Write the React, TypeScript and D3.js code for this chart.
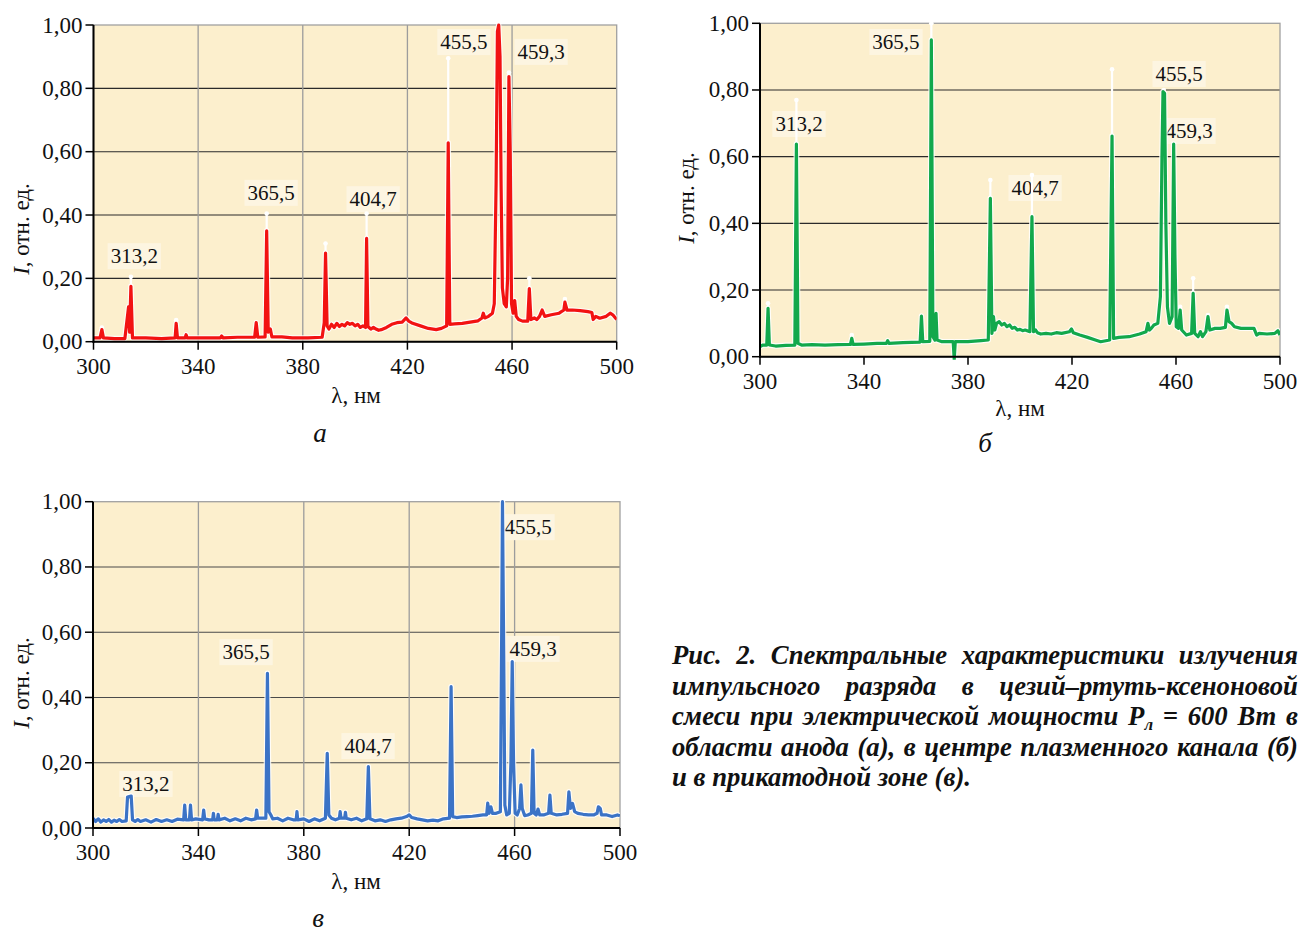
import React from "react";
import * as d3 from "d3";

type P = [number, number];
type H = [number, number, number];
type L = { text: string; x: number; y: number };

const xTicks = [300, 340, 380, 420, 460, 500];
const yTicks = [0, 0.2, 0.4, 0.6, 0.8, 1.0];

// ---------- Panel (а): anode region ----------
const spectrumA: P[] = [
  [300, 0.012], [302.5, 0.012], [303.2, 0.038], [303.8, 0.012], [308, 0.01], [312, 0.01], [313.4, 0.11], [313.8, 0.03],
  [314.3, 0.175], [314.9, 0.012], [320, 0.012], [326, 0.01], [331.2, 0.012], [331.6, 0.058], [332.1, 0.012], [335, 0.012],
  [335.4, 0.022], [335.8, 0.012], [342, 0.012], [348.5, 0.012], [349, 0.018], [349.5, 0.012], [355, 0.014], [361.6, 0.014],
  [362.2, 0.06], [362.8, 0.014], [365.6, 0.015], [366.2, 0.35], [366.8, 0.03], [367.6, 0.04], [368.2, 0.015], [372, 0.015],
  [376, 0.012], [382, 0.012], [387.4, 0.014], [388.2, 0.06], [388.7, 0.28], [389.3, 0.05], [390, 0.04], [391, 0.055],
  [392, 0.045], [393, 0.058], [394, 0.048], [395, 0.055], [396, 0.05], [397, 0.06], [398, 0.055], [399, 0.058], [400, 0.05],
  [401, 0.055], [402, 0.045], [403, 0.05], [404, 0.045], [404.4, 0.326], [404.9, 0.048], [406, 0.04], [407, 0.045],
  [408, 0.04], [409, 0.036], [410, 0.038], [412, 0.045], [414, 0.055], [416, 0.06], [418, 0.062], [419.5, 0.075],
  [420.5, 0.065], [422, 0.058], [425, 0.05], [428, 0.042], [431, 0.038], [433, 0.042], [435, 0.05], [435.6, 0.628],
  [436.2, 0.055], [438, 0.056], [441, 0.058], [444, 0.062], [447, 0.066], [448.5, 0.075], [449, 0.09], [449.6, 0.075],
  [451, 0.08], [452.5, 0.09], [453.2, 0.12], [453.9, 0.5], [454.4, 0.98], [454.9, 1.0], [455.4, 0.9], [455.8, 0.5],
  [456.3, 0.17], [457, 0.12], [457.8, 0.11], [458.3, 0.2], [458.8, 0.837], [459.3, 0.6], [459.8, 0.12], [460.4, 0.09],
  [461, 0.13], [461.6, 0.08], [462.5, 0.07], [464, 0.065], [466, 0.065], [466.6, 0.168], [467.2, 0.07], [468.5, 0.075],
  [469.5, 0.07], [470.5, 0.08], [471.5, 0.1], [472.5, 0.08], [475, 0.085], [478, 0.09], [479.8, 0.1], [480.2, 0.125],
  [481, 0.1], [483, 0.1], [486, 0.098], [489, 0.095], [490.5, 0.092], [491, 0.07], [492, 0.08], [493.5, 0.074], [496, 0.08],
  [497.5, 0.09], [498.5, 0.085], [500, 0.07],
];
const haloA: H[] = [
  [303.2, 0.038, 0.045], [314.3, 0.175, 0.205], [331.6, 0.058, 0.068], [366.2, 0.35, 0.405], [388.7, 0.28, 0.31],
  [404.4, 0.326, 0.405], [435.6, 0.628, 0.895], [458.8, 0.837, 0.85], [466.6, 0.168, 0.2], [480.2, 0.125, 0.135],
];
const labelsA: L[] = [
  { text: "313,2", x: 315.6, y: 0.27 },
  { text: "365,5", x: 367.9, y: 0.47 },
  { text: "404,7", x: 406.9, y: 0.45 },
  { text: "455,5", x: 441.6, y: 0.946 },
  { text: "459,3", x: 471.1, y: 0.915 },
];

// ---------- Panel (б): plasma channel centre ----------
const spectrumB: P[] = [
  [300, 0.03], [301, 0.035], [302.6, 0.035], [303.1, 0.145], [303.6, 0.035], [306, 0.032], [310, 0.034], [313.4, 0.035],
  [314, 0.638], [314.6, 0.04], [316, 0.035], [320, 0.036], [325, 0.035], [330, 0.036], [334.8, 0.037], [335.3, 0.055],
  [335.8, 0.037], [340, 0.038], [345, 0.04], [348.6, 0.04], [349.1, 0.048], [349.6, 0.04], [355, 0.042], [361.6, 0.044],
  [362.1, 0.122], [362.6, 0.045], [365.3, 0.046], [365.9, 0.95], [366.5, 0.06], [367.3, 0.05], [367.7, 0.13], [368.1, 0.05],
  [370, 0.045], [374.3, 0.045], [374.7, -0.008], [375.1, 0.045], [380, 0.045], [385, 0.048], [387.8, 0.05], [388.6, 0.475],
  [389.2, 0.07], [389.8, 0.12], [390.3, 0.08], [391, 0.1], [392, 0.105], [393, 0.095], [394, 0.1], [395, 0.09], [396, 0.095],
  [397, 0.085], [398, 0.088], [399, 0.08], [400, 0.082], [401, 0.078], [402, 0.08], [403.8, 0.075], [404.6, 0.42],
  [405.2, 0.075], [406, 0.08], [406.7, 0.072], [408, 0.068], [410, 0.07], [412, 0.068], [414, 0.072], [416, 0.07],
  [419, 0.075], [419.8, 0.083], [420.5, 0.072], [423, 0.065], [426, 0.058], [429, 0.05], [431, 0.045], [433, 0.048],
  [434.5, 0.05], [435.4, 0.662], [436, 0.055], [438, 0.058], [442, 0.06], [446, 0.068], [448.5, 0.075], [449.2, 0.1],
  [449.8, 0.08], [450.5, 0.085], [451.5, 0.095], [453, 0.1], [454, 0.18], [454.6, 0.6], [455, 0.795], [455.6, 0.79],
  [456.1, 0.4], [456.7, 0.15], [457.5, 0.1], [458.5, 0.12], [459.1, 0.638], [459.6, 0.3], [460.1, 0.09], [461, 0.085],
  [461.6, 0.14], [462.2, 0.08], [464, 0.065], [466, 0.07], [466.6, 0.19], [467.2, 0.07], [468.5, 0.06], [469.4, 0.075],
  [470.2, 0.06], [471.5, 0.075], [472.3, 0.12], [473, 0.08], [475, 0.085], [477, 0.085], [479, 0.088], [479.6, 0.14],
  [480.4, 0.105], [481.4, 0.1], [482.5, 0.09], [485, 0.085], [488, 0.085], [490, 0.085], [491, 0.065], [492, 0.07],
  [495, 0.068], [498, 0.07], [499.2, 0.078], [500, 0.065],
];
const haloB: H[] = [
  [303.1, 0.145, 0.16], [314, 0.638, 0.77], [335.3, 0.055, 0.065], [365.9, 0.95, 1.0], [388.6, 0.475, 0.53],
  [404.6, 0.42, 0.545], [435.4, 0.662, 0.862], [455.3, 0.795, 0.8], [461.6, 0.14, 0.15], [466.6, 0.19, 0.235],
  [472.3, 0.12, 0.125], [479.6, 0.14, 0.15],
];
const labelsB: L[] = [
  { text: "313,2", x: 315, y: 0.698 },
  { text: "365,5", x: 352.3, y: 0.944 },
  { text: "404,7", x: 405.8, y: 0.506 },
  { text: "455,5", x: 461.2, y: 0.848 },
  { text: "459,3", x: 465, y: 0.677 },
];

// ---------- Panel (в): cathode zone ----------
const spectrumC: P[] = [
  [300, 0.03], [301, 0.02], [302, 0.028], [303, 0.018], [304, 0.025], [305, 0.02], [306, 0.026], [307, 0.018], [308, 0.024],
  [309, 0.02], [310, 0.026], [311, 0.02], [312.6, 0.022], [313.1, 0.095], [314.5, 0.098], [315, 0.025], [316, 0.02],
  [317, 0.026], [318, 0.02], [320, 0.025], [322, 0.018], [324, 0.026], [326, 0.02], [328, 0.025], [330, 0.02], [332, 0.027],
  [334.4, 0.025], [334.8, 0.07], [335.2, 0.025], [336.6, 0.025], [337, 0.07], [337.4, 0.025], [339, 0.028], [341.6, 0.025],
  [342, 0.055], [342.4, 0.028], [344, 0.025], [345.4, 0.025], [345.7, 0.045], [346, 0.025], [347.2, 0.025], [347.5, 0.042],
  [347.8, 0.025], [350, 0.03], [352, 0.022], [354, 0.028], [356, 0.022], [358, 0.03], [360, 0.025], [361.7, 0.028],
  [362.1, 0.055], [362.5, 0.03], [364, 0.03], [365.6, 0.03], [366.2, 0.474], [366.8, 0.05], [367.5, 0.04], [368.2, 0.028],
  [370, 0.03], [372, 0.022], [374, 0.03], [376, 0.025], [377.1, 0.025], [377.4, 0.05], [377.7, 0.025], [380, 0.028],
  [382, 0.02], [384, 0.028], [386, 0.022], [388.2, 0.03], [388.9, 0.229], [389.5, 0.04], [390.5, 0.03], [392, 0.025],
  [393.5, 0.03], [393.8, 0.05], [394.1, 0.03], [395.5, 0.03], [395.8, 0.048], [396.1, 0.03], [398, 0.025], [400, 0.03],
  [402, 0.022], [403.9, 0.028], [404.5, 0.188], [405.1, 0.028], [407, 0.022], [409, 0.025], [411, 0.02], [413, 0.025],
  [415, 0.028], [417, 0.03], [419, 0.035], [420, 0.04], [421, 0.032], [423, 0.028], [425, 0.025], [427, 0.022],
  [429, 0.024], [431, 0.022], [433, 0.028], [435.3, 0.03], [435.9, 0.433], [436.5, 0.035], [438, 0.032], [440, 0.034],
  [442, 0.035], [444, 0.036], [446, 0.038], [448, 0.04], [449.4, 0.04], [449.8, 0.076], [450.3, 0.045], [451, 0.065],
  [451.6, 0.045], [453, 0.045], [454.6, 0.05], [455.1, 0.6], [455.4, 1.0], [455.8, 0.6], [456.3, 0.07], [457, 0.04],
  [458, 0.045], [458.6, 0.2], [459.1, 0.51], [459.6, 0.2], [460.2, 0.045], [461, 0.04], [461.9, 0.06], [462.4, 0.132],
  [462.9, 0.06], [463.8, 0.038], [465, 0.04], [466.4, 0.045], [466.9, 0.239], [467.4, 0.045], [468.2, 0.04], [468.9, 0.058],
  [469.5, 0.04], [471, 0.04], [472.9, 0.045], [473.4, 0.101], [473.9, 0.045], [476, 0.04], [478, 0.042], [480.1, 0.045],
  [480.6, 0.111], [481.2, 0.06], [482, 0.075], [482.8, 0.05], [484, 0.045], [486, 0.042], [488, 0.04], [490, 0.04],
  [491.3, 0.045], [491.8, 0.065], [492.5, 0.06], [493, 0.04], [495, 0.04], [497, 0.035], [499, 0.04], [500, 0.038],
];
const haloC: H[] = [
  [366.2, 0.474, 0.474], [388.9, 0.229, 0.229], [404.5, 0.188, 0.188], [435.9, 0.433, 0.433], [455.4, 1.0, 1.0],
  [459.1, 0.51, 0.51], [466.9, 0.239, 0.239], [462.4, 0.132, 0.132],
];
const labelsC: L[] = [
  { text: "313,2", x: 320.1, y: 0.135 },
  { text: "365,5", x: 358.1, y: 0.539 },
  { text: "404,7", x: 404.4, y: 0.251 },
  { text: "455,5", x: 465.1, y: 0.922 },
  { text: "459,3", x: 467, y: 0.549 },
];

const captionLines: string[][] = [
  ["Рис.", "2.", "Спектральные", "характеристики", "излучения"],
  ["импульсного", "разряда", "в", "цезий–ртуть-ксеноновой"],
  ["смеси", "при", "электрической", "мощности", "P_л", "=", "600", "Вт", "в"],
  ["области", "анода", "(а),", "в", "центре", "плазменного", "канала", "(б)"],
  ["и", "в", "прикатодной", "зоне", "(в)."],
];

const SERIF = '"Liberation Serif", "Times New Roman", serif';
const BG = "#fcefcd";

let _ctx: CanvasRenderingContext2D | null = null;
function measure(text: string, font: string): number {
  if (!_ctx) _ctx = document.createElement("canvas").getContext("2d");
  if (!_ctx) return text.length * 10;
  _ctx.font = font;
  return _ctx.measureText(text).width;
}
const fmt = (v: number) => v.toFixed(2).replace(".", ",");

type PanelProps = {
  data: P[]; halo: H[]; labels: L[]; color: string;
  x0: number; x1: number; yTop: number; yBot: number;
  vGrid: boolean; hGridColor: string; id: string;
  yLab: [number, number]; xLab: [number, number]; letter: string; letterPos: [number, number];
};

function Panel(p: PanelProps) {
  const x = d3.scaleLinear().domain([300, 500]).range([p.x0, p.x1]);
  const y = d3.scaleLinear().domain([0, 1]).range([p.yBot, p.yTop]);
  const line = d3.line<P>().x((d) => x(d[0])).y((d) => y(d[1]));
  const path = line(p.data) || "";
  const labFont = `21px ${SERIF}`;
  return (
    <g>
      <defs>
        <clipPath id={`clip-${p.id}`}>
          <rect x={p.x0} y={p.yTop - 3} width={p.x1 - p.x0} height={p.yBot - p.yTop + 6} />
        </clipPath>
      </defs>
      <rect x={p.x0} y={p.yTop} width={p.x1 - p.x0} height={p.yBot - p.yTop} fill={BG} />
      {yTicks.slice(1, -1).map((t) => (
        <line key={"h" + t} x1={p.x0} x2={p.x1} y1={y(t)} y2={y(t)} stroke={p.hGridColor} strokeWidth={1.1} />
      ))}
      {p.vGrid &&
        xTicks.slice(1, -1).map((t) => (
          <line key={"v" + t} x1={x(t)} x2={x(t)} y1={p.yTop} y2={p.yBot} stroke="#9c9c9c" strokeWidth={1.3} />
        ))}
      <rect x={p.x0} y={p.yTop} width={p.x1 - p.x0} height={p.yBot - p.yTop} fill="none" stroke="#a0a0a0" strokeWidth={1.3} />
      {p.labels.map((l) => {
        const w = measure(l.text, labFont);
        return (
          <g key={l.text}>
            <rect x={x(l.x) - w / 2 - 3} y={y(l.y) - 13} width={w + 6} height={26} fill="#fdf5e1" />
            <text x={x(l.x)} y={y(l.y) + 7} textAnchor="middle" fontFamily={SERIF} fontSize={21} fill="#111">
              {l.text}
            </text>
          </g>
        );
      })}
      <g clipPath={`url(#clip-${p.id})`}>
        <path d={path} fill="none" stroke="#ffffff" strokeOpacity={0.85} strokeWidth={5.5} strokeLinejoin="round" />
        {p.halo.map((h, i) => (
          <g key={i}>
            <line x1={x(h[0])} x2={x(h[0])} y1={y(h[1])} y2={y(h[2])} stroke="#fff" strokeWidth={2.2} />
            <circle cx={x(h[0])} cy={y(h[2])} r={2.3} fill="#fff" />
          </g>
        ))}
        <path d={path} fill="none" stroke={p.color} strokeWidth={3.2} strokeLinejoin="round" />
      </g>
      <line x1={p.x0} x2={p.x0} y1={p.yTop} y2={p.yBot + 1} stroke="#000" strokeWidth={2} />
      <line x1={p.x0 - 1} x2={p.x1} y1={p.yBot} y2={p.yBot} stroke="#000" strokeWidth={2} />
      {yTicks.map((t) => (
        <g key={"yt" + t}>
          <line x1={p.x0 - 8} x2={p.x0} y1={y(t)} y2={y(t)} stroke="#000" strokeWidth={1.5} />
          <text x={p.x0 - 11} y={y(t) + 7.5} textAnchor="end" fontFamily={SERIF} fontSize={23} fill="#111">
            {fmt(t)}
          </text>
        </g>
      ))}
      {xTicks.map((t) => (
        <g key={"xt" + t}>
          <line x1={x(t)} x2={x(t)} y1={p.yBot} y2={p.yBot + 8} stroke="#000" strokeWidth={1.5} />
          <text x={x(t)} y={p.yBot + 32} textAnchor="middle" fontFamily={SERIF} fontSize={23} fill="#111">
            {t}
          </text>
        </g>
      ))}
      <text x={p.xLab[0]} y={p.xLab[1] + 7} textAnchor="middle" fontFamily={SERIF} fontSize={23} fill="#111">
        λ, нм
      </text>
      <text
        transform={`translate(${p.yLab[0] + 7},${p.yLab[1]}) rotate(-90)`}
        textAnchor="middle"
        fontFamily={SERIF}
        fontSize={23}
        fill="#111"
      >
        <tspan fontStyle="italic">I</tspan>, отн. ед.
      </text>
      <text x={p.letterPos[0]} y={p.letterPos[1] + 7} textAnchor="middle" fontFamily={SERIF} fontStyle="italic" fontSize={27} fill="#111">
        {p.letter}
      </text>
    </g>
  );
}

function Caption() {
  const size = 27;
  const subSize = 17;
  const font = `italic bold ${size}px ${SERIF}`;
  const subFont = `italic bold ${subSize}px ${SERIF}`;
  const wordW = (w: string) => {
    if (w.includes("_")) {
      const [b, s] = w.split("_");
      return measure(b, font) + measure(s, subFont);
    }
    return measure(w, font);
  };
  const left = 672;
  const right = 1298;
  const lastLine = captionLines[captionLines.length - 1];
  const lastNat = lastLine.reduce((a, w) => a + wordW(w), 0) + (lastLine.length - 1) * measure(" ", font);
  let sx = 299 / lastNat;
  sx = Math.max(0.65, Math.min(1.05, sx));
  const baseY = 664;
  const lh = 30.5;
  return (
    <g>
      {captionLines.map((words, li) => {
        const widths = words.map((w) => wordW(w) * sx);
        const total = widths.reduce((a, b) => a + b, 0);
        const isLast = li === captionLines.length - 1;
        const gap = isLast ? measure(" ", font) * sx : (right - left - total) / (words.length - 1);
        let cx = left;
        return words.map((w, wi) => {
          const xPos = cx;
          cx += widths[wi] + gap;
          const [b, s] = w.includes("_") ? w.split("_") : [w, ""];
          return (
            <text
              key={li + "-" + wi}
              transform={`translate(${xPos},${baseY + li * lh}) scale(${sx},1)`}
              fontFamily={SERIF}
              fontStyle="italic"
              fontWeight="bold"
              fontSize={size}
              fill="#111"
            >
              {b}
              {s && (
                <tspan fontSize={subSize} dy={5}>
                  {s}
                </tspan>
              )}
            </text>
          );
        });
      })}
    </g>
  );
}

export default function App() {
  return (
    <svg
      width={1301}
      height={934}
      viewBox="0 0 1301 934"
      style={{ position: "absolute", left: 0, top: 0, background: "#fff" }}
    >
      <rect width={1301} height={934} fill="#fff" />
      <Panel
        id="a" data={spectrumA} halo={haloA} labels={labelsA} color="#f21212"
        x0={93.5} x1={616.7} yTop={25} yBot={341.7} vGrid={true} hGridColor="#2a2a2a"
        yLab={[22, 229]} xLab={[356, 396]} letter="а" letterPos={[320, 435]}
      />
      <Panel
        id="b" data={spectrumB} halo={haloB} labels={labelsB} color="#12a84c"
        x0={760} x1={1280} yTop={23.3} yBot={356.7} vGrid={false} hGridColor="#2a2a2a"
        yLab={[687, 198]} xLab={[1020, 409]} letter="б" letterPos={[985, 445]}
      />
      <Panel
        id="c" data={spectrumC} halo={haloC} labels={labelsC} color="#3b73c6"
        x0={93} x1={620} yTop={501.7} yBot={828} vGrid={true} hGridColor="#4a4a4a"
        yLab={[22, 683]} xLab={[356, 882]} letter="в" letterPos={[318, 920]}
      />
      <Caption />
    </svg>
  );
}
